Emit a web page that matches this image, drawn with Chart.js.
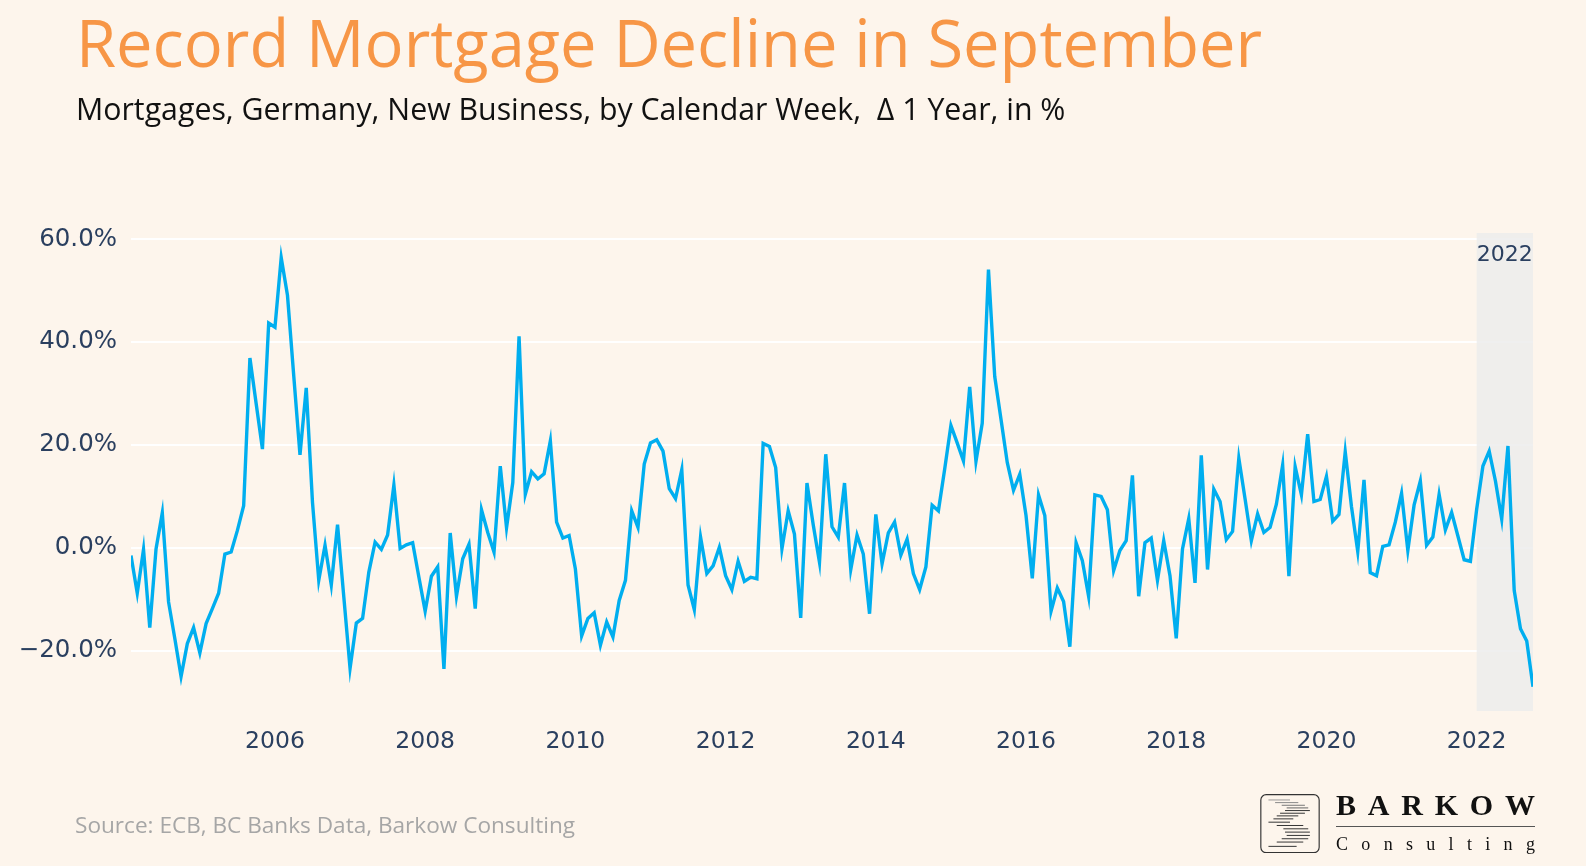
<!DOCTYPE html>
<html>
<head>
<meta charset="utf-8">
<script src="https://cdn.jsdelivr.net/npm/chart.js@4.4.1/dist/chart.umd.min.js"></script>
<style>
  html, body { margin: 0; padding: 0; }
  body {
    width: 1586px; height: 866px; position: relative; overflow: hidden;
    background: #fdf5ec;
    font-family: "Open Sans", "Noto Sans", sans-serif;
  }
  #chart { position: absolute; left: 0; top: 0; }
  .title { position: absolute; left: 76px; top: 10px; font-size: 65px; line-height: 1; color: #f79646; white-space: nowrap; }
  .subtitle { position: absolute; left: 76px; top: 94px; font-size: 30.3px; line-height: 1; color: #111; white-space: nowrap; }
  .source { position: absolute; left: 75px; top: 814px; font-size: 22.6px; line-height: 1; color: #a6a6a6; white-space: nowrap; }
  .logo-icon { position: absolute; left: 1260px; top: 794px; }
  .logo-word { position: absolute; left: 1336px; width: 199px; display: flex; justify-content: space-between;
    font-family: "Liberation Serif", serif; color: #111; line-height: 1; }
  .logo-word.big { top: 790px; font-size: 30px; font-weight: bold; }
  .logo-word.small { top: 835px; font-size: 18px; }
  .logo-rule { position: absolute; left: 1336px; top: 826px; width: 199px; height: 1px; background: #555; }
</style>
</head>
<body>
<canvas id="chart" width="1586" height="866"></canvas>

<div class="title">Record Mortgage Decline in September</div>
<div class="subtitle">Mortgages, Germany, New Business, by Calendar Week,&nbsp; Δ 1 Year, in %</div>
<div class="source">Source: ECB, BC Banks Data, Barkow Consulting</div>

<svg class="logo-icon" width="60" height="59" viewBox="60 70 180 178">
  <rect x="62" y="72" width="176" height="175" rx="16" fill="none" stroke="#333" stroke-width="3.5"/>
  <g stroke="#333" stroke-width="3">
    <line x1="85" y1="88" x2="150" y2="88" stroke="#999"/>
    <line x1="105" y1="96" x2="175" y2="96" stroke="#888"/>
    <line x1="125" y1="104" x2="195" y2="104" stroke="#777"/>
    <line x1="140" y1="112" x2="205" y2="112" stroke="#666"/>
    <line x1="135" y1="120" x2="210" y2="120"/>
    <line x1="120" y1="128" x2="195" y2="128"/>
    <line x1="110" y1="136" x2="175" y2="136"/>
    <line x1="100" y1="145" x2="160" y2="145"/>
    <line x1="85" y1="155" x2="150" y2="155"/>
    <line x1="110" y1="165" x2="190" y2="165"/>
    <line x1="130" y1="175" x2="205" y2="175"/>
    <line x1="135" y1="185" x2="210" y2="185"/>
    <line x1="140" y1="195" x2="210" y2="195"/>
    <line x1="125" y1="205" x2="205" y2="205"/>
    <line x1="110" y1="215" x2="190" y2="215"/>
    <line x1="85" y1="228" x2="170" y2="228"/>
  </g>
</svg>
<div class="logo-word big"><span>B</span><span>A</span><span>R</span><span>K</span><span>O</span><span>W</span></div>
<div class="logo-rule"></div>
<div class="logo-word small"><span>C</span><span>o</span><span>n</span><span>s</span><span>u</span><span>l</span><span>t</span><span>i</span><span>n</span><span>g</span></div>

<script>
// monthly series, Jan 2004 .. Sep 2022, change vs. prior year in %
const START_YEAR = 2004;
const yoyChange = [
  -1.5, -8.8, -0.3, -15.5, -0.2, 6.8, -10.5, -17.6, -25.0, -18.6, -15.5, -20.4,   // 2004
  -14.7, -11.8, -8.8, -1.2, -0.8, 3.4, 8.2, 36.9, 28.0, 19.2, 43.7, 42.9,         // 2005
  56.4, 49.1, 33.5, 18.1, 31.1, 8.8, -6.3, 0.5, -7.2, 4.5, -9.5, -23.4,           // 2006
  -14.6, -13.7, -4.7, 1.1, -0.3, 2.5, 12.2, -0.1, 0.6, 1.0, -5.7, -12.3,          // 2007
  -5.5, -3.7, -23.5, 2.9, -9.4, -2.1, 0.7, -11.8, 7.4, 3.0, -0.8, 15.9,           // 2008
  3.9, 12.7, 41.1, 10.4, 14.8, 13.4, 14.4, 20.8, 5.0, 1.9, 2.4, -4.1,             // 2009
  -17.1, -13.7, -12.6, -18.9, -14.4, -17.3, -10.2, -6.3, 7.2, 4.0, 16.3, 20.4,    // 2010
  21.0, 18.8, 11.5, 9.6, 15.2, -7.2, -12.0, 2.1, -5.0, -3.5, 0.1, -5.4,           // 2011
  -8.1, -2.6, -6.5, -5.7, -6.0, 20.3, 19.7, 15.6, -0.2, 7.2, 2.7, -13.6,          // 2012
  12.6, 4.5, -2.8, 18.2, 4.1, 2.1, 12.6, -4.2, 2.5, -1.2, -12.8, 6.5,             // 2013
  -3.1, 2.9, 5.0, -1.4, 1.7, -5.0, -8.1, -3.7, 8.3, 7.2, 15.3, 23.8,              // 2014
  20.4, 16.9, 31.3, 16.8, 24.2, 54.1, 33.3, 25.0, 16.6, 11.2, 14.3, 6.3,          // 2015
  -5.9, 10.3, 6.3, -12.3, -7.8, -10.4, -19.2, 1.0, -2.5, -9.4, 10.3, 10.0,        // 2016
  7.4, -4.4, -0.5, 1.4, 14.1, -9.4, 1.0, 1.9, -6.3, 1.4, -5.4, -17.6,             // 2017
  -0.2, 5.7, -6.8, 18.0, -4.2, 11.4, 9.0, 1.6, 3.2, 17.4, 9.5, 1.4,               // 2018
  6.6, 3.0, 4.0, 8.5, 16.1, -5.5, 15.8, 10.3, 22.1, 9.0, 9.4, 13.9,               // 2019
  5.2, 6.5, 18.7, 8.0, -0.7, 13.2, -4.8, -5.4, 0.3, 0.6, 5.0, 10.6,               // 2020
  -0.5, 8.3, 13.0, 0.5, 2.1, 10.4, 3.5, 6.9, 2.3, -2.3, -2.6, 7.5,                // 2021
  15.9, 18.8, 13.0, 5.6, 19.8, -8.3, -15.7, -18.1, -27.0                          // 2022
];
const months = yoyChange.map((_, i) =>
  `${START_YEAR + Math.floor(i / 12)}-${String(i % 12 + 1).padStart(2, "0")}`);

const YEAR_TICKS = [2006, 2008, 2010, 2012, 2014, 2016, 2018, 2020, 2022];
const PCT_TICKS = [-20, 0, 20, 40, 60];
const HIGHLIGHT_FROM = 2022;
const HIGHLIGHT_LABEL = "2022";

const LINE_COLOR = "#00aeef";
const TICK_COLOR = "#2a3f5f";
const TICK_FAMILY = "'DejaVu Sans', Verdana, sans-serif";

// point sits at the end of its month
function monthPos(label) {
  const [y, m] = label.split("-").map(Number);
  return y + m / 12;
}

function fmtPct(v) {
  return (v < 0 ? "\u2212" : "") + Math.abs(v).toFixed(1) + "%";
}

const highlightPlugin = {
  id: "highlight",
  beforeDatasetsDraw(chart) {
    const { ctx, chartArea, scales } = chart;
    const x0 = scales.x.getPixelForValue(HIGHLIGHT_FROM);
    ctx.save();
    ctx.fillStyle = "rgba(236,236,236,0.85)";
    ctx.fillRect(x0, chartArea.top, chartArea.right - x0, chartArea.bottom - chartArea.top);
    ctx.fillStyle = TICK_COLOR;
    ctx.font = `22px ${TICK_FAMILY}`;
    ctx.textAlign = "center";
    ctx.textBaseline = "middle";
    ctx.fillText(HIGHLIGHT_LABEL, (x0 + chartArea.right) / 2, chartArea.top + 22);
    ctx.restore();
  },
};

const points = months.map((m, i) => ({ x: monthPos(m), y: yoyChange[i] }));

new Chart(document.getElementById("chart"), {
  type: "line",
  data: {
    datasets: [{
      data: points,
      borderColor: LINE_COLOR,
      borderWidth: 3.4,
      pointRadius: 0,
      tension: 0,
    }],
  },
  options: {
    responsive: false,
    animation: false,
    devicePixelRatio: 1,
    layout: { padding: { left: 0, top: 233, right: 53, bottom: 85 } },
    plugins: { legend: { display: false }, tooltip: { enabled: false } },
    scales: {
      x: {
        type: "linear",
        min: monthPos(months[0]),
        max: monthPos(months[months.length - 1]),
        grid: { display: false },
        border: { display: false },
        ticks: {
          color: TICK_COLOR, font: { family: TICK_FAMILY, size: 23.5 }, padding: 9,
          autoSkip: false, maxRotation: 0,
          callback: v => String(v),
        },
        afterBuildTicks: s => { s.ticks = YEAR_TICKS.map(v => ({ value: v })); },
        afterFit: s => { s.height = 70; },
      },
      y: {
        min: -31.7,
        max: 61.2,
        grid: { color: "#ffffff", lineWidth: 2, drawTicks: false },
        border: { display: false },
        ticks: { color: TICK_COLOR, font: { family: TICK_FAMILY, size: 24.5 }, padding: 14, callback: fmtPct },
        afterBuildTicks: s => { s.ticks = PCT_TICKS.map(v => ({ value: v })); },
        afterFit: s => { s.width = 131; },
      },
    },
  },
  plugins: [highlightPlugin],
});
</script>
</body>
</html>
